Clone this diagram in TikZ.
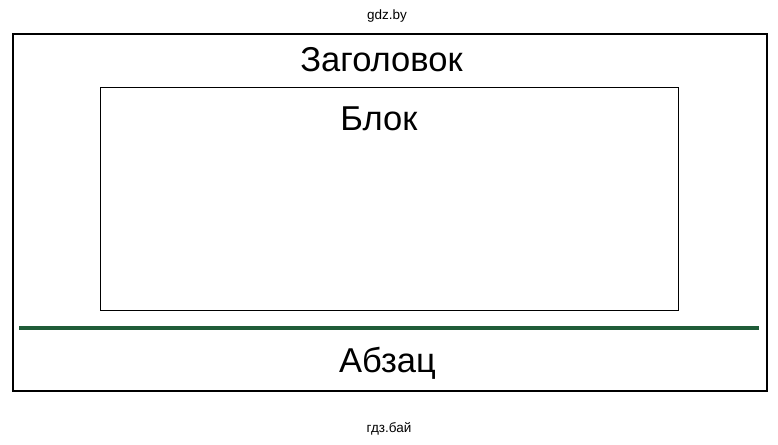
\documentclass[tikz,border=0pt]{standalone}
\usepackage{fontspec}
\setmainfont{Liberation Sans}
\usetikzlibrary{positioning}
\definecolor{rulegreen}{RGB}{31,92,56}

\begin{document}
\begin{tikzpicture}[x=1pt,y=-1pt,
    frame/.style={draw, line width=1.1pt},
    title/.style={anchor=base, inner sep=0pt, font=\fontsize{34.5}{40}\selectfont},
    mark text/.style={anchor=base, inner sep=0pt, font=\fontsize{13.5}{15}\selectfont}]
  \useasboundingbox (0,0) rectangle (778,444);
  \node (top) [mark text] at (387,20) {gdz.by};
  \draw[frame] (13,34) coordinate (pageA) rectangle (767,391) coordinate (pageB);
  \node (header) [title] at (381.5,71) {Заголовок};
  \draw[frame, line width=0.9pt] (100,87) coordinate (blockA) rectangle (678,310) coordinate (blockB);
  \node (block) [title] at (379,130) {Блок};
  \coordinate (ruleL) at (19,327.5);
  \coordinate (ruleR) at (759,327.5);
  \draw[rulegreen, line width=4pt] (ruleL) -- (ruleR);
  \node (para) [title] at (387.5,372) {Абзац};
  \node (bottom) [mark text] at (389,432) {гдз.бай};
\end{tikzpicture}
\end{document}
